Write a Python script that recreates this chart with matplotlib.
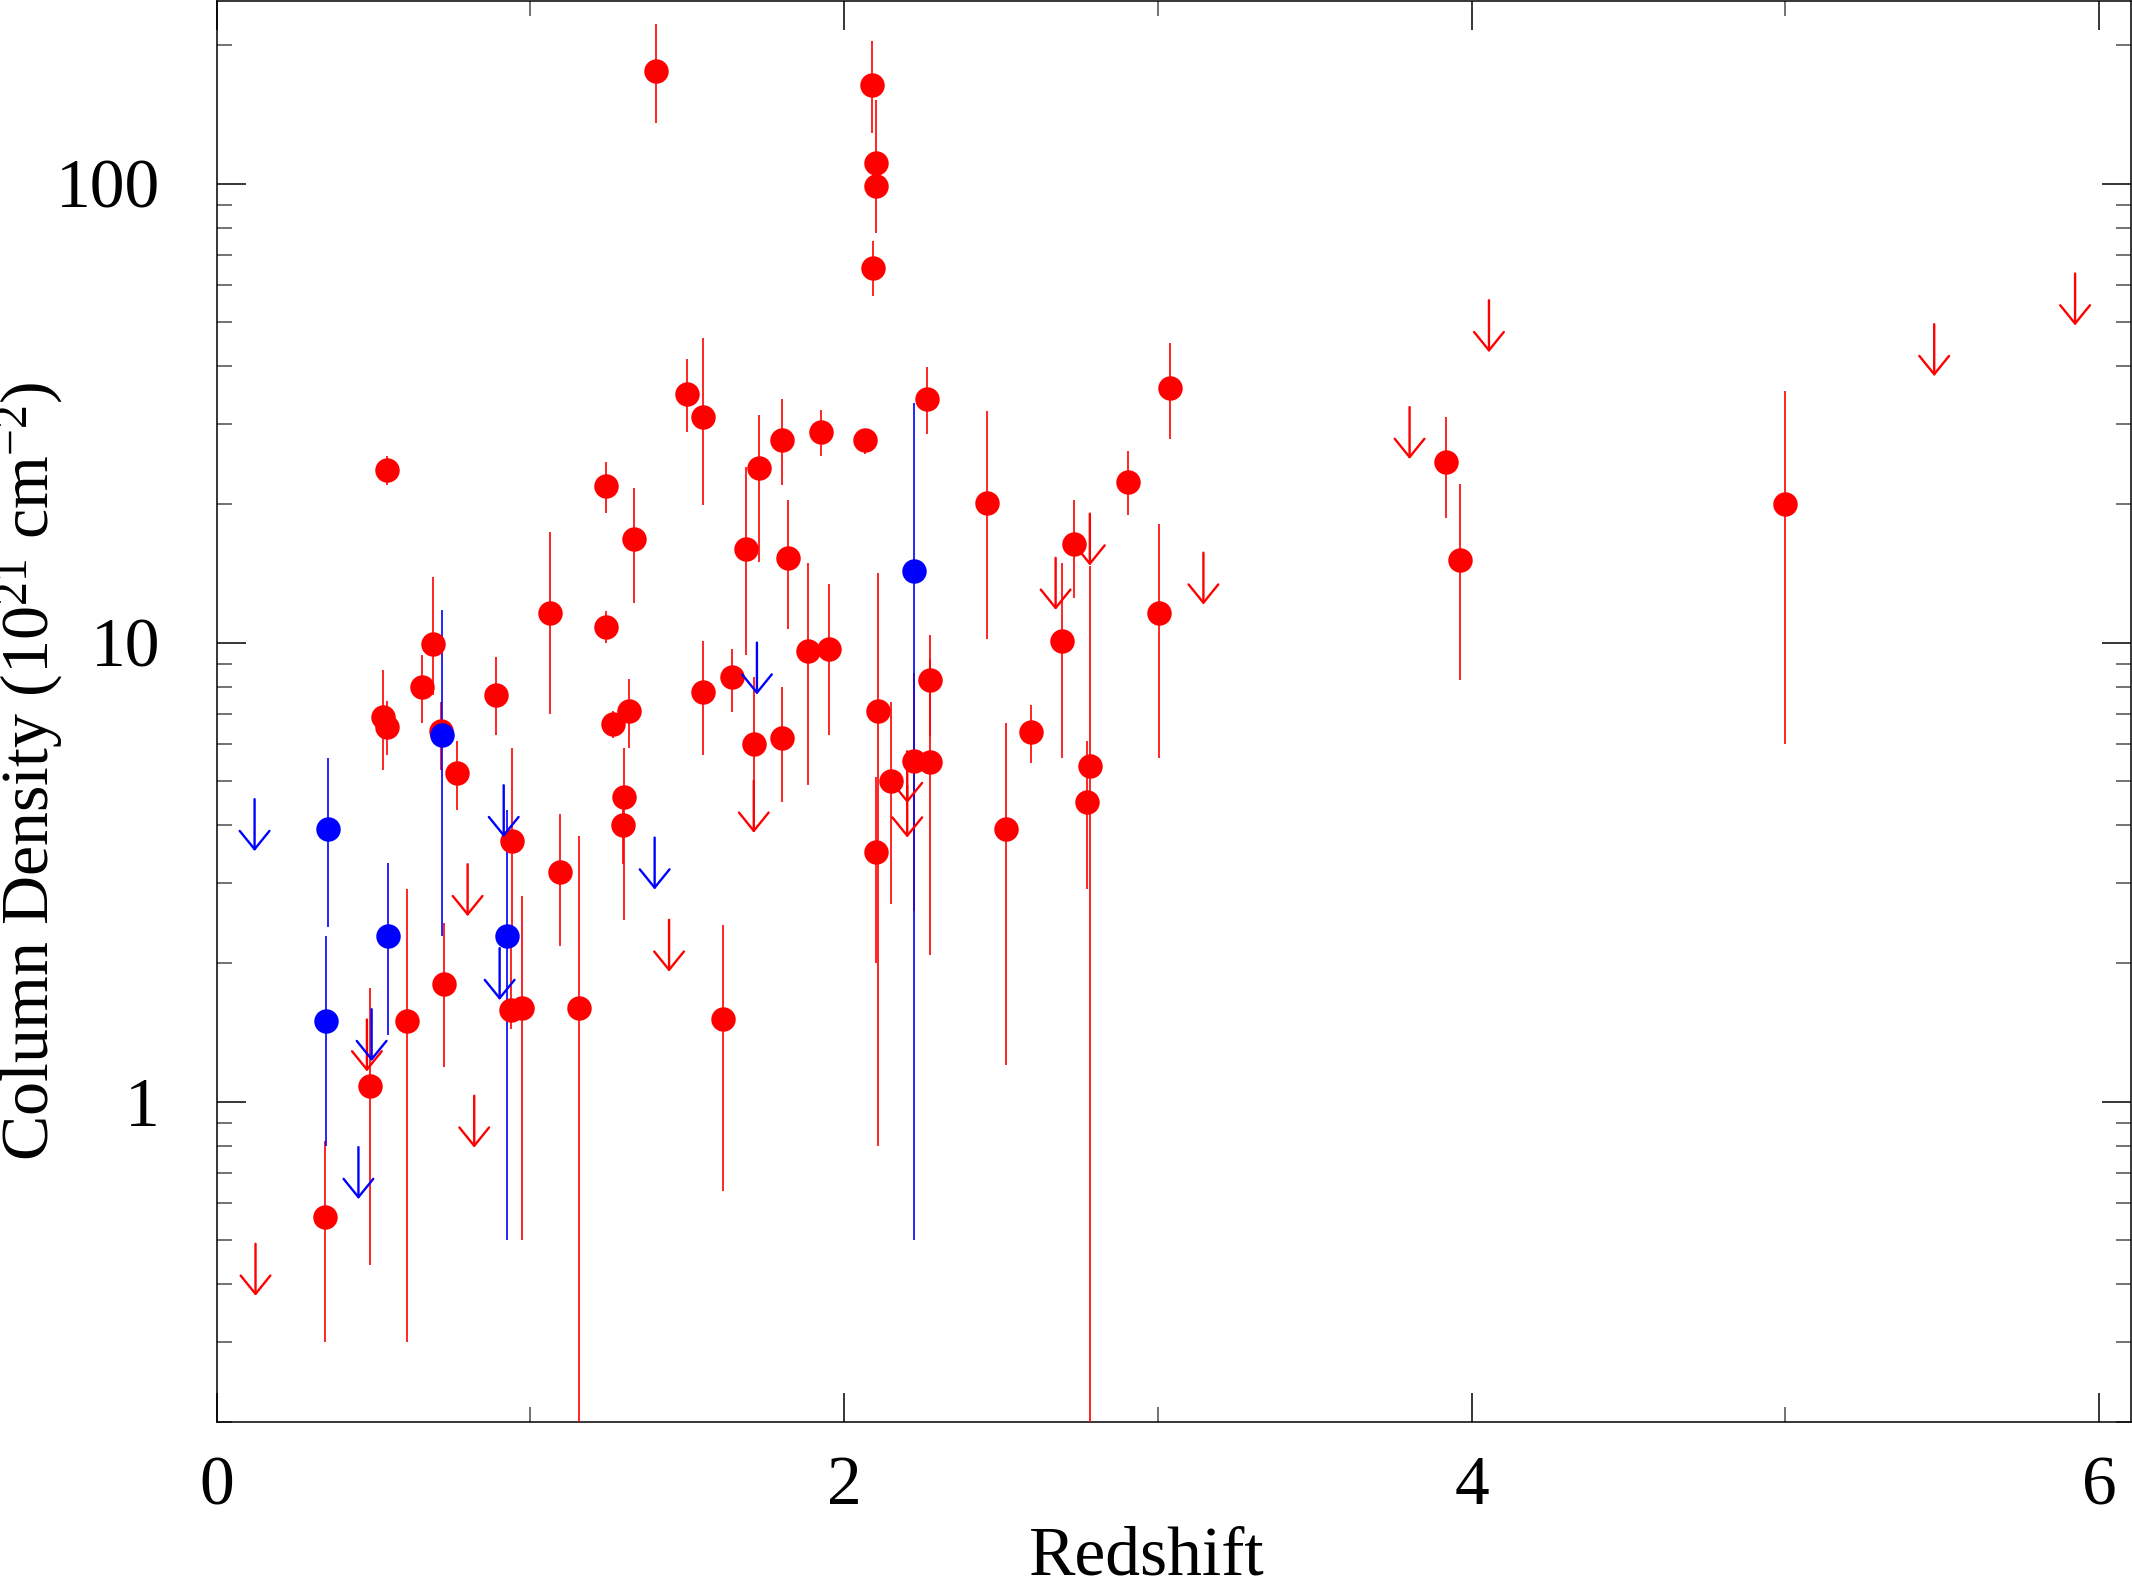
import matplotlib
matplotlib.use('Agg')
import matplotlib.pyplot as plt
import numpy as np
from matplotlib.ticker import LogLocator, NullFormatter

plt.rcParams['font.family'] = ['Liberation Serif', 'DejaVu Serif']
plt.rcParams['mathtext.fontset'] = 'custom'
plt.rcParams['mathtext.rm'] = 'Liberation Serif'
plt.rcParams['mathtext.it'] = 'Liberation Serif:italic'
plt.rcParams['mathtext.bf'] = 'Liberation Serif:bold'

# red detections: redshift, column density, lower / upper end of error bar
red_z = [1.399, 2.090, 2.102, 2.102, 2.092, 1.499, 1.551, 2.263, 3.040, 3.917,
         1.802, 1.926, 2.065, 1.729, 0.542, 1.241, 2.905, 2.456, 4.997, 1.331,
         1.688, 1.822, 2.734, 3.962, 1.061, 3.004, 1.240, 2.694, 0.690, 1.886,
         1.953, 2.272, 0.654, 1.642, 1.549, 0.890, 0.530, 1.315, 2.108, 0.544,
         1.262, 0.714, 2.594, 1.801, 1.712, 0.767, 2.224, 2.273, 2.149, 2.783,
         2.774, 1.298, 1.294, 2.515, 0.940, 2.102, 1.094, 0.726, 0.606, 0.938,
         0.972, 1.156, 1.615, 0.490, 0.345]
red_n = [176, 164, 111, 98.9, 65.6, 34.8, 31.0, 33.9, 35.8, 24.7,
         27.7, 28.8, 27.6, 24.0, 23.8, 21.9, 22.4, 20.1, 20.0, 16.8,
         16.0, 15.3, 16.4, 15.1, 11.6, 11.6, 10.8, 10.1, 9.92, 9.60,
         9.70, 8.30, 8.0, 8.41, 7.80, 7.70, 6.90, 7.10, 7.10, 6.55,
         6.65, 6.41, 6.40, 6.20, 6.00, 5.19, 5.52, 5.50, 5.00, 5.39,
         4.50, 4.60, 4.01, 3.92, 3.69, 3.50, 3.17, 1.80, 1.50, 1.58,
         1.60, 1.60, 1.51, 1.08, 0.56]
red_lo = [135.5, 129, 98, 78, 56.8, 28.7, 19.9, 28.5, 27.8, 18.7,
          22.1, 25.5, 25.8, 15.0, 22.1, 19.2, 19.0, 10.2, 6.0, 12.2,
          9.4, 10.7, 12.5, 8.3, 6.98, 5.6, 10.0, 5.6, 7.70, 4.89,
          6.29, 6.27, 6.69, 7.07, 5.70, 6.29, 5.29, 5.89, 0.80, 5.70,
          6.2, 5.29, 5.47, 4.49, 5.0, 4.31, 2.6, 2.09, 2.69, 0.1,
          2.90, 2.49, 3.29, 1.20, 2.4, 2.00, 2.18, 1.19, 0.30, 1.44,
          0.50, 0.1, 0.64, 0.44, 0.30]
red_hi = [223, 204, 152, 111, 74.9, 41.5, 46.2, 39.8, 44.9, 31.0,
          33.9, 32.2, 28.4, 31.3, 25.5, 24.8, 26.1, 31.9, 35.3, 21.7,
          24.1, 20.4, 20.4, 22.2, 17.4, 18.1, 11.7, 14.9, 13.9, 14.9,
          13.4, 10.4, 9.4, 9.70, 10.1, 9.32, 8.73, 8.32, 14.2, 7.46,
          7.1, 7.43, 7.33, 8.0, 8.41, 6.09, 8.6, 9.2, 7.43, 14.7,
          6.09, 5.89, 4.4, 6.69, 5.90, 5.10, 4.24, 2.45, 2.90, 2.4,
          2.81, 3.8, 2.43, 1.77, 0.82]

# blue detections
blue_z = [2.224, 0.718, 0.356, 0.546, 0.924, 0.350]
blue_n = [14.3, 6.30, 3.92, 2.30, 2.30, 1.50]
blue_lo = [0.50, 2.29, 2.40, 1.40, 0.50, 0.80]
blue_hi = [33.2, 11.8, 5.60, 3.31, 4.31, 2.29]

# upper limits
red_lim_z = [0.124, 0.800, 0.821, 0.479, 1.442, 1.712, 2.201, 2.201, 2.674,
             2.783, 3.145, 3.802, 4.055, 5.474, 5.923]
red_lim_n = [0.49, 3.29, 1.03, 1.51, 2.49, 5.00, 5.80, 4.88, 15.3,
             19.1, 15.7, 32.6, 55.7, 49.4, 63.7]
blue_lim_z = [0.121, 0.494, 0.452, 0.915, 0.902, 1.396, 1.722]
blue_lim_n = [4.56, 1.59, 0.796, 4.89, 2.16, 3.76, 10.0]

fig = plt.figure(figsize=(21.32, 15.8), dpi=100)
ax = fig.add_axes([0.1016, 0.0997, 0.8979, 0.8997])
ax.set_yscale('log')


def points(z, n, lo, hi, col):
    n = np.array(n)
    yerr = [n - np.array(lo), np.array(hi) - n]
    ax.errorbar(z, n, yerr=yerr, fmt='o', color=col, ms=17.6, mew=0,
                elinewidth=1.2, capsize=0, zorder=3)


def limits(z, n, col):
    for x, y in zip(z, n):
        ax.annotate('', xy=(x, y), xytext=(0, -37.4), textcoords='offset points',
                    arrowprops=dict(arrowstyle='<-,head_length=1.32,head_width=1.07',
                                    mutation_scale=10, color=col, lw=1.7,
                                    shrinkA=0, shrinkB=0), zorder=4)


points(red_z, red_n, red_lo, red_hi, '#ff0000')
limits(red_lim_z, red_lim_n, '#ff0000')
points(blue_z, blue_n, blue_lo, blue_hi, '#0000ff')
limits(blue_lim_z, blue_lim_n, '#0000ff')

ax.set_xlim(0, 6.101)
ax.set_ylim(0.2, 250)

ax.set_xticks([0, 2, 4, 6])
ax.set_xticklabels(['0', '2', '4', '6'])
ax.set_xticks([1, 3, 5], minor=True)
ax.set_yticks([1, 10, 100])
ax.set_yticklabels(['1', '10', '100'])
ax.yaxis.set_minor_locator(LogLocator(base=10, subs=np.arange(2, 10)))
ax.yaxis.set_minor_formatter(NullFormatter())

ax.tick_params(which='both', direction='in', top=True, right=True,
               labelsize=50, width=1.1)
ax.tick_params(which='major', length=20.9)
ax.tick_params(which='minor', length=10.5, color='0.3')
ax.tick_params(axis='x', which='major', pad=24)
ax.tick_params(axis='y', which='major', pad=40.7)
for s in ax.spines.values():
    s.set_linewidth(1.1)

fig.text(0.538, 0.0032, 'Redshift', fontsize=50, ha='center', va='baseline')
fig.text(0.023, 0.5117, 'Column Density (10$^{21}$ cm$^{-2}$)', fontsize=49,
         rotation=90, rotation_mode='anchor', ha='center', va='baseline')

fig.savefig('out.png', dpi=100)
